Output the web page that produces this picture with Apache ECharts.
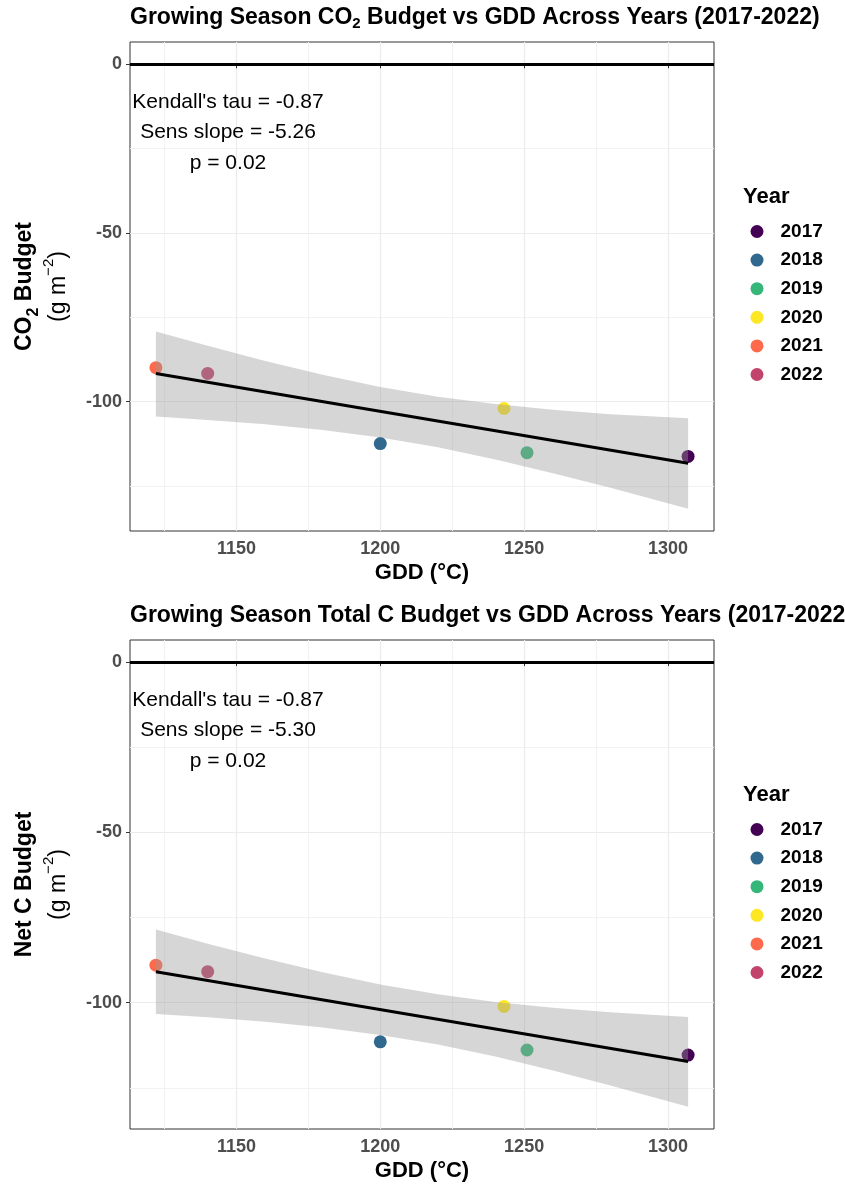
<!DOCTYPE html>
<html>
<head>
<meta charset="utf-8">
<script src="https://cdn.jsdelivr.net/npm/echarts@6/dist/echarts.min.js"></script>
<style>
  html, body { margin: 0; padding: 0; background: #fff; }
  #chart { width: 845px; height: 1187px; }
</style>
</head>
<body>
<div id="chart"></div>
<script>
// values
const years = ['2017', '2018', '2019', '2020', '2021', '2022'];
const yearColors = ['#440154', '#31688E', '#35B779', '#FDE725', '#FF6A4D', '#C2436B'];
const gdd = [1307, 1200, 1251, 1243, 1122, 1140];
const co2Budget = [-116.2, -112.4, -115.1, -102.0, -89.9, -91.6];
const netCBudget = [-115.4, -111.5, -113.9, -101.1, -89.0, -90.9];

// fitted trend line (end points) and confidence band
const fitX = [1122, 1307];
const co2Fit = [-91.6, -118.2];
const netCFit = [-90.9, -117.3];
const bandX = [1122, 1140, 1160, 1180, 1200, 1220, 1240, 1260, 1280, 1307];
const co2Upper = [-79.2, -83.4, -87.9, -92.0, -95.6, -98.5, -100.7, -102.4, -103.7, -104.9];
const co2Lower = [-104.4, -105.4, -106.7, -108.4, -110.6, -113.5, -117.1, -121.2, -125.5, -131.7];
const netCUpper = [-78.5, -82.7, -87.0, -91.1, -94.7, -97.5, -99.8, -101.5, -102.8, -104.2];
const netCLower = [-103.3, -104.3, -105.6, -107.3, -109.5, -112.3, -115.8, -119.9, -124.3, -130.6];

// Mann-Kendall stats
const kendallTau = ['-0.87', '-0.87'];
const sensSlope = ['-5.26', '-5.30'];
const pValue = ['0.02', '0.02'];

// ticks
const xTicks = [1150, 1200, 1250, 1300];
const xMinorTicks = [1125, 1175, 1225, 1275];
const yTicks = [-100, -50, 0];
const yMinorTicks = [-125, -75, -25];

const FONT = "'Liberation Sans', Arial, Helvetica, sans-serif";

const chart = echarts.init(document.getElementById('chart'));

const panels = [
  { top: 42, yMin: -138.3, yMax: 6.6, y: co2Budget, fit: co2Fit, upper: co2Upper, lower: co2Lower,
    title: '{t|Growing Season CO}{s|2}{t| Budget vs GDD Across Years (2017-2022)}',
    yName: '{b|CO}{bs|2}{b| Budget}\n{r|(g m}{sup|\u22122}{r|)}' },
  { top: 640, yMin: -137.1, yMax: 6.5, y: netCBudget, fit: netCFit, upper: netCUpper, lower: netCLower,
    title: '{t|Growing Season Total C Budget vs GDD Across Years (2017-2022)}',
    yName: '{b|Net C Budget}\n{r|(g m}{sup|\u22122}{r|)}' }
];
const gridH = 489;

const grids = [], xAxes = [], yAxes = [], series = [], titles = [], legends = [], graphics = [];

const tickLabel = { fontFamily: FONT, fontSize: 18, fontWeight: 'bold', color: '#4D4D4D', formatter: v => String(v) };

panels.forEach((p, i) => {
  grids.push({
    left: 130, right: 131, top: p.top, height: gridH,
    show: true, borderColor: '#333333', borderWidth: 1, backgroundColor: 'transparent'
  });

  // major x axis
  xAxes.push({
    type: 'value', gridIndex: i, min: 1113, max: 1316, position: 'bottom',
    axisLine: { show: false },
    axisTick: { show: true, length: 4, customValues: xTicks, lineStyle: { color: '#333333' } },
    axisLabel: Object.assign({ customValues: xTicks, margin: 9 }, tickLabel),
    splitLine: { show: true, lineStyle: { color: '#EBEBEB', width: 1.2 } },
    name: 'GDD (\u00B0C)', nameLocation: 'middle', nameGap: 31,
    nameTextStyle: { fontFamily: FONT, fontSize: 22, fontWeight: 'bold', color: '#000' }
  });
  // minor x grid
  xAxes.push({
    type: 'value', gridIndex: i, min: 1113, max: 1316, position: 'top',
    axisLine: { show: false },
    axisTick: { show: false, customValues: xMinorTicks },
    axisLabel: { show: false, customValues: xMinorTicks },
    splitLine: { show: true, lineStyle: { color: '#F2F2F2', width: 1 } }
  });
  // major y axis
  yAxes.push({
    type: 'value', gridIndex: i, min: p.yMin, max: p.yMax, position: 'left',
    axisLine: { show: false },
    axisTick: { show: true, length: 4, customValues: yTicks, lineStyle: { color: '#333333' } },
    axisLabel: Object.assign({ customValues: yTicks, margin: 8 }, tickLabel),
    splitLine: { show: true, lineStyle: { color: '#EBEBEB', width: 1.2 } }
  });
  // minor y grid
  yAxes.push({
    type: 'value', gridIndex: i, min: p.yMin, max: p.yMax, position: 'right',
    axisLine: { show: false },
    axisTick: { show: false, customValues: yMinorTicks },
    axisLabel: { show: false, customValues: yMinorTicks },
    splitLine: { show: true, lineStyle: { color: '#F2F2F2', width: 1 } }
  });

  const xi = i * 2, yi = i * 2;

  // points, one series per year
  years.forEach((yr, k) => {
    series.push({
      name: yr, type: 'scatter', xAxisIndex: xi, yAxisIndex: yi,
      symbol: 'circle', symbolSize: 13, z: 2,
      itemStyle: { color: yearColors[k], opacity: 1 },
      data: [[gdd[k], p.y[k]]]
    });
  });

  // confidence band on top of the points
  series.push({
    type: 'custom', xAxisIndex: xi, yAxisIndex: yi, z: 3, silent: true,
    data: bandX.map((x, k) => [x, p.lower[k], p.upper[k]]),
    encode: { x: 0, y: [1, 2] },
    renderItem: (params, api) => {
      if (params.dataIndex !== 0) return null;
      const pts = [];
      bandX.forEach((x, k) => pts.push(api.coord([x, p.upper[k]])));
      for (let k = bandX.length - 1; k >= 0; k--) pts.push(api.coord([bandX[k], p.lower[k]]));
      return { type: 'polygon', shape: { points: pts }, style: { fill: 'rgba(153,153,153,0.4)' } };
    }
  });

  // fitted line + zero reference line
  series.push({
    type: 'line', xAxisIndex: xi, yAxisIndex: yi, z: 4, silent: true,
    symbol: 'none', lineStyle: { color: '#000', width: 3 },
    data: fitX.map((x, k) => [x, p.fit[k]]),
    markLine: {
      silent: true, symbol: ['none', 'none'], label: { show: false },
      lineStyle: { color: '#000', width: 3, type: 'solid' },
      data: [{ yAxis: 0 }]
    }
  });

  titles.push({
    text: p.title, left: 130, top: p.top - 37, padding: 0,
    textStyle: {
      rich: {
        t: { fontFamily: FONT, fontSize: 23, fontWeight: 'bold', color: '#000', lineHeight: 26 },
        s: { fontFamily: FONT, fontSize: 15, fontWeight: 'bold', color: '#000', lineHeight: 13, verticalAlign: 'bottom' }
      }
    }
  });

  legends.push({
    data: years, orient: 'vertical', left: 750.5, top: p.top + 180, padding: 0,
    icon: 'circle', itemWidth: 13, itemHeight: 13, itemGap: 9.6,
    selectedMode: false,
    textStyle: { fontFamily: FONT, fontSize: 19, fontWeight: 'bold', color: '#000', lineHeight: 19, padding: [0, 0, 0, 12] }
  });

  // legend heading
  graphics.push({
    type: 'text', x: 743, y: p.top + 155, z: 100, silent: true,
    style: { text: 'Year', fontFamily: FONT, fontSize: 22, fontWeight: 'bold', fill: '#000', align: 'left', verticalAlign: 'middle' }
  });

  // y axis title
  graphics.push({
    type: 'text', x: 41.5, y: p.top + gridH / 2, rotation: Math.PI / 2, z: 100, silent: true,
    style: {
      text: p.yName, align: 'center', verticalAlign: 'middle', fill: '#000',
      rich: {
        b: { fontFamily: FONT, fontSize: 23, fontWeight: 'bold', fill: '#000', lineHeight: 34 },
        bs: { fontFamily: FONT, fontSize: 16, fontWeight: 'bold', fill: '#000', lineHeight: 21, verticalAlign: 'bottom' },
        r: { fontFamily: FONT, fontSize: 23, fontWeight: 'normal', fill: '#000', lineHeight: 34 },
        sup: { fontFamily: FONT, fontSize: 15, fontWeight: 'normal', fill: '#000', lineHeight: 19, verticalAlign: 'top' }
      }
    }
  });

  // Mann-Kendall annotation
  graphics.push({
    type: 'text', x: 228, y: p.top + 90.5, z: 100, silent: true,
    style: {
      text: "Kendall's tau = " + kendallTau[i] + '\nSens slope = ' + sensSlope[i] + '\np = ' + pValue[i],
      fontFamily: FONT, fontSize: 21, fill: '#000', lineHeight: 30.5,
      align: 'center', verticalAlign: 'middle'
    }
  });
});

chart.setOption({
  backgroundColor: '#fff',
  animation: false,
  title: titles,
  legend: legends,
  grid: grids,
  xAxis: xAxes,
  yAxis: yAxes,
  series: series,
  graphic: graphics
});
</script>
</body>
</html>
